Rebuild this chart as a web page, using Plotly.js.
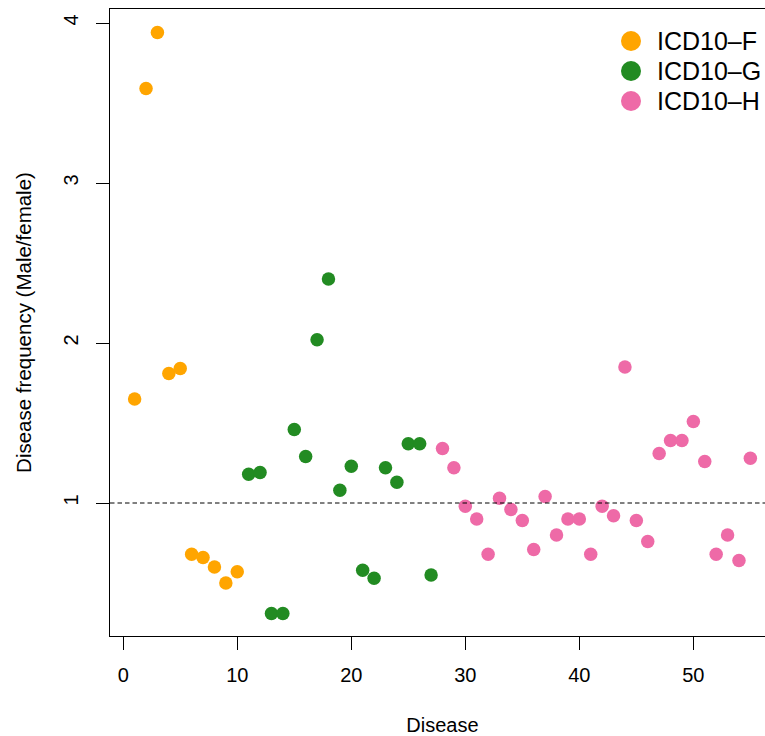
<!DOCTYPE html>
<html>
<head>
<meta charset="utf-8">
<script src="https://cdn.plot.ly/plotly-3.0.1.min.js"></script>
<style>
  html, body { margin: 0; padding: 0; background: #fff; overflow: hidden; }
  #chart { width: 780px; height: 736px; }
</style>
</head>
<body>
<div id="chart"></div>
<script>
// ---- data ----
const groupNames = ["ICD10\u2013F", "ICD10\u2013G", "ICD10\u2013H"];
const groupColors = ["#FFA500", "#228B22", "#EE6AA7"];

const diseaseF = [1, 2, 3, 4, 5, 6, 7, 8, 9, 10];
const ratioF = [1.65, 3.59, 3.94, 1.81, 1.84, 0.68, 0.66, 0.60, 0.50, 0.57];

const diseaseG = [11, 12, 13, 14, 15, 16, 17, 18, 19, 20, 21, 22, 23, 24, 25, 26, 27];
const ratioG = [1.18, 1.19, 0.31, 0.31, 1.46, 1.29, 2.02, 2.40, 1.08, 1.23, 0.58, 0.53, 1.22, 1.13, 1.37, 1.37, 0.55];

const diseaseH = [28, 29, 30, 31, 32, 33, 34, 35, 36, 37, 38, 39, 40, 41, 42, 43, 44, 45, 46, 47, 48, 49, 50, 51, 52, 53, 54, 55];
const ratioH = [1.34, 1.22, 0.98, 0.90, 0.68, 1.03, 0.96, 0.89, 0.71, 1.04, 0.80, 0.90, 0.90, 0.68, 0.98, 0.92, 1.85, 0.89, 0.76, 1.31, 1.39, 1.39, 1.51, 1.26, 0.68, 0.80, 0.64, 1.28];

const xTicks = [0, 10, 20, 30, 40, 50];
const yTicks = [1, 2, 3, 4];
const refLine = 1;

const xTitle = "Disease";
const yTitle = "Disease frequency (Male/female)";

// ---- layout geometry ----
const W = 780, H = 736;
const mL = 110, mR = 5, mT = 9, mB = 100;
const plotW = W - mL - mR, plotH = H - mT - mB;
const FONT = "'Liberation Sans', Arial, Helvetica, sans-serif";

function pxX(p) { return (p - mL) / plotW; }
function pxY(p) { return (H - mB - p) / plotH; }

const xs = [diseaseF, diseaseG, diseaseH];
const ys = [ratioF, ratioG, ratioH];

const traces = xs.map((x, i) => ({
  type: "scatter",
  mode: "markers",
  x: x,
  y: ys[i],
  name: groupNames[i],
  showlegend: false,
  marker: { color: groupColors[i], size: 13.5, line: { width: 0 } },
  hoverinfo: "x+y"
}));

// manual legend (R-style, no box)
const legendRowsY = [41, 71, 101];
const legendMarkerX = 631;
const legendTextX = 655;
const shapes = [
  {
    type: "line", xref: "paper", yref: "y",
    x0: 0, x1: 1, y0: refLine, y1: refLine,
    line: { color: "#000", width: 1, dash: "4.5px,3px" }
  }
];
const annotations = [];
groupNames.forEach((g, i) => {
  shapes.push({
    type: "circle", xref: "paper", yref: "paper",
    xsizemode: "pixel", ysizemode: "pixel",
    xanchor: pxX(legendMarkerX), yanchor: pxY(legendRowsY[i]),
    x0: -10, x1: 10, y0: -10, y1: 10,
    fillcolor: groupColors[i], line: { width: 0 }
  });
  annotations.push({
    xref: "paper", yref: "paper",
    x: pxX(legendTextX), y: pxY(legendRowsY[i]),
    xanchor: "left", yanchor: "middle",
    text: g, showarrow: false,
    font: { family: FONT, size: 25, color: "#000" }
  });
});

const layout = {
  width: W, height: H,
  margin: { l: mL, r: mR, t: mT, b: mB, pad: 0 },
  paper_bgcolor: "#fff",
  plot_bgcolor: "#fff",
  font: { family: FONT, color: "#000" },
  showlegend: false,
  xaxis: {
    range: [-1.16, 57.16],
    tickvals: xTicks,
    ticktext: xTicks.map(String),
    ticks: "outside", ticklen: 13, tickwidth: 1, tickcolor: "#000",
    showline: true, linecolor: "#000", linewidth: 1, mirror: true,
    showgrid: false, zeroline: false,
    tickfont: { family: FONT, size: 20, color: "#000" },
    ticklabelstandoff: 8,
    title: { text: xTitle, font: { family: FONT, size: 20, color: "#000" }, standoff: 33 }
  },
  yaxis: {
    range: [0.16875, 4.0875],
    tickvals: yTicks,
    ticktext: yTicks.map(String),
    tickangle: -90,
    ticks: "outside", ticklen: 13, tickwidth: 1, tickcolor: "#000",
    showline: true, linecolor: "#000", linewidth: 1, mirror: true,
    showgrid: false, zeroline: false,
    tickfont: { family: FONT, size: 20, color: "#000" },
    ticklabelstandoff: 10,
    title: { text: yTitle, font: { family: FONT, size: 20.5, color: "#000" }, standoff: 22 }
  },
  shapes: shapes,
  annotations: annotations
};

Plotly.newPlot("chart", traces, layout, { displayModeBar: false, staticPlot: true });
</script>
</body>
</html>
